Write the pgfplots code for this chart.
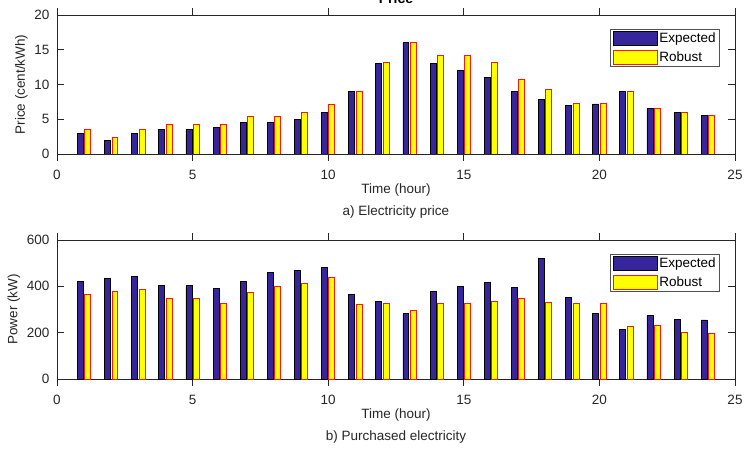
\documentclass[border=0pt]{standalone}
\usepackage{pgfplots}
\pgfplotsset{compat=1.18}
\usepackage{fontspec}
\setmainfont{Liberation Sans}

\definecolor{expfill}{RGB}{55,38,155}
\definecolor{robfill}{RGB}{255,255,0}
\definecolor{robedge}{RGB}{255,20,20}
\definecolor{axgray}{RGB}{38,38,38}
\definecolor{legedge}{RGB}{80,80,80}

% hourly price (cent/kWh)
\pgfplotstableread{
h  exp   rob
1  3.0   3.6
2  2.0   2.4
3  3.0   3.6
4  3.5   4.2
5  3.5   4.2
6  3.8   4.3
7  4.5   5.4
8  4.5   5.4
9  5.0   6.0
10 6.0   7.2
11 9.0   9.0
12 13.0  13.2
13 16.0  16.0
14 13.0  14.2
15 12.0  14.2
16 11.0  13.2
17 9.0   10.8
18 7.8   9.3
19 7.0   7.3
20 7.2   7.3
21 9.0   9.0
22 6.5   6.5
23 6.0   6.0
24 5.5   5.5
}\pricetab

% hourly purchased power (kW)
\pgfplotstableread{
h  exp  rob
1  420  364
2  434  377
3  442  385
4  403  347
5  403  347
6  391  328
7  423  373
8  460  398
9  469  411
10 482  440
11 365  324
12 334  328
13 282  296
14 377  328
15 401  328
16 416  334
17 394  347
18 521  331
19 352  328
20 282  328
21 213  227
22 275  232
23 259  201
24 255  197
}\powertab

\newcommand{\labfont}{\fontsize{13.5}{16}\selectfont}

\pgfplotsset{
  matstyle/.style={
    scale only axis,
    width=678pt, height=139pt,
    xmin=0, xmax=25,
    xtick={0,5,...,25},
    tick align=inside,
    tick pos=both,
    major tick length=7pt,
    axis line style={draw=axgray, line width=0.7pt},
    every tick/.style={draw=axgray, line width=0.7pt},
    tick label style={font=\labfont, text=axgray},
    /pgf/number format/assume math mode=true,
    xticklabel style={yshift=-6pt},
    yticklabel style={xshift=-4pt},
    label style={font=\fontsize{13.5}{22}\selectfont, text=axgray},
    xlabel style={align=center, yshift=3pt},
    ybar,
    bar width=0.22,
    legend style={
      at={(rel axis cs:1,1)}, anchor=north east,
      xshift=-15pt, yshift=-14pt,
      draw=legedge, line width=0.7pt,
      text=black,
      nodes={inner sep=1.5pt},
      inner xsep=2.5pt, inner ysep=2pt,
      row sep=3.5pt,
      cells={anchor=west},
    },
    legend image code/.code={\draw[##1] (0pt,-7pt) rectangle (44pt,7pt);},
  },
  expstyle/.style={fill=expfill, draw=black, line width=0.8pt, bar shift=-0.135},
  robstyle/.style={fill=robfill, draw=robedge, line width=0.8pt, bar shift=0.135},
}

\begin{document}
\begin{tikzpicture}[x=1pt, y=1pt]

\begin{axis}[
  matstyle,
  at={(57pt,-154pt)}, anchor=south west,
  ymin=0, ymax=20,
  ytick={0,5,...,20},
  xlabel={Time (hour)\\a) Electricity price},
  ylabel={Price (cent/kWh)},
]
\addplot[expstyle] table[x=h, y=exp] {\pricetab};
\addplot[robstyle] table[x=h, y=rob] {\pricetab};
\legend{{\labfont Expected}, {\labfont Robust}}
\end{axis}

\begin{axis}[
  matstyle,
  at={(57pt,-379pt)}, anchor=south west,
  ymin=0, ymax=600,
  ytick={0,200,...,600},
  xlabel={Time (hour)\\b) Purchased electricity},
  ylabel={Power (kW)},
]
\addplot[expstyle] table[x=h, y=exp] {\powertab};
\addplot[robstyle] table[x=h, y=rob] {\powertab};
\legend{{\labfont Expected}, {\labfont Robust}}
\end{axis}

% figure title, mostly above the page edge
\node[anchor=base, font=\bfseries\fontsize{14}{16}\selectfont, text=black] at (396pt,-3.5pt) {Price};

\pgfresetboundingbox
\path[use as bounding box] (0,0) rectangle (745pt,-449pt);
\end{tikzpicture}
\end{document}
